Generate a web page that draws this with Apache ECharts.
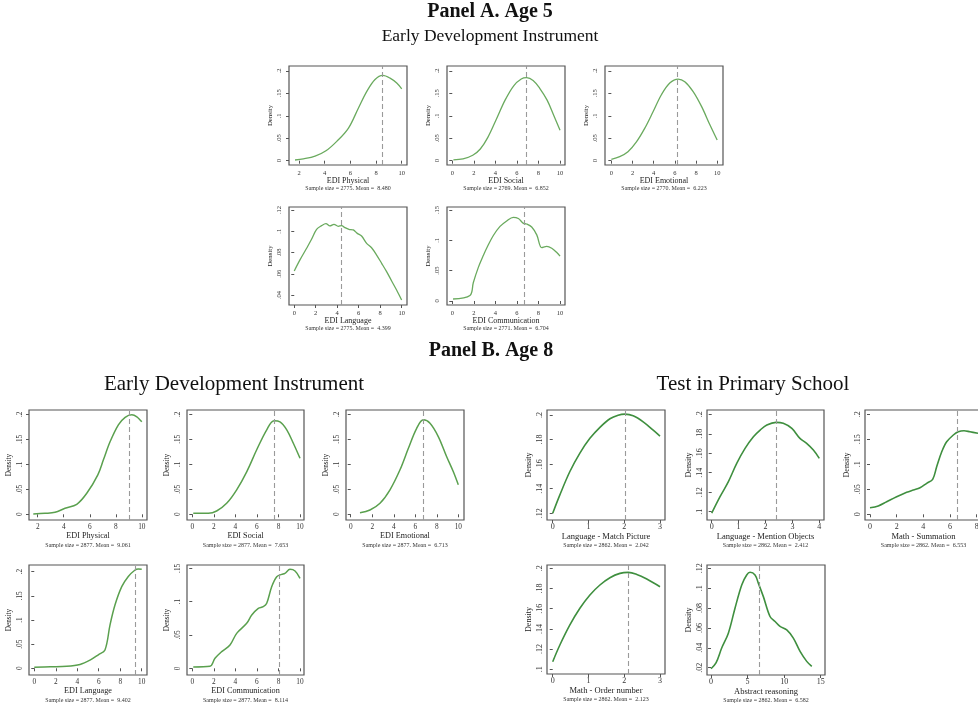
<!DOCTYPE html>
<html>
<head>
<meta charset="utf-8">
<script src="https://cdn.jsdelivr.net/npm/echarts@6/dist/echarts.min.js"></script>
<style>
  html, body { margin: 0; padding: 0; background: #fff; }
  #chart { width: 978px; height: 707px; }
</style>
</head>
<body>
<div id="chart"></div>
<script>
// ---------- Panel A: age 5, Early Development Instrument (kernel densities) ----------
const a5PhysicalX = [1.69, 2.34, 3.25, 4.1, 4.94, 5.84, 6.62, 7.27, 7.92, 8.52, 9.09, 9.61, 10.0];
const a5PhysicalY = [0.0015, 0.004, 0.010, 0.022, 0.043, 0.072, 0.117, 0.154, 0.181, 0.190, 0.184, 0.173, 0.160];
const a5SocialX = [0.1, 1.0, 1.9, 2.6, 3.3, 4.1, 4.9, 5.7, 6.4, 6.9, 7.5, 8.1, 8.8, 9.4, 10.0];
const a5SocialY = [0.002, 0.004, 0.012, 0.026, 0.052, 0.093, 0.135, 0.167, 0.182, 0.185, 0.179, 0.162, 0.135, 0.102, 0.068];
const a5EmotionalX = [0, 0.79, 1.57, 2.37, 3.15, 3.94, 4.73, 5.52, 6.31, 6.94, 7.73, 8.52, 9.31, 10.0];
const a5EmotionalY = [0.003, 0.009, 0.020, 0.042, 0.072, 0.109, 0.147, 0.173, 0.182, 0.176, 0.154, 0.121, 0.080, 0.046];
const a5LanguageX = [0, 0.53, 1.15, 1.61, 2.08, 2.55, 2.95, 3.32, 3.7, 4.1, 4.41, 4.72, 5.09, 5.5, 5.87, 6.27, 6.74, 7.2, 7.67, 8.14, 8.6, 9.07, 9.53, 10.0];
const a5LanguageY = [0.0626, 0.073, 0.084, 0.0924, 0.1018, 0.1053, 0.1071, 0.105, 0.1065, 0.1046, 0.1053, 0.1034, 0.1018, 0.1012, 0.098, 0.0955, 0.0886, 0.0845, 0.0776, 0.0698, 0.062, 0.0532, 0.0447, 0.0353];
const a5CommunicationX = [0.07, 1.64, 1.95, 2.41, 2.88, 3.3, 3.81, 4.43, 5.05, 5.66, 6.13, 6.6, 6.9, 7.37, 7.84, 8.3, 8.77, 9.23, 9.7, 10.0];
const a5CommunicationY = [0.0033, 0.009, 0.030, 0.055, 0.075, 0.091, 0.108, 0.123, 0.132, 0.138, 0.136, 0.128, 0.127, 0.122, 0.109, 0.088, 0.090, 0.087, 0.080, 0.074];
const a5Names = ['EDI Physical', 'EDI Social', 'EDI Emotional', 'EDI Language', 'EDI Communication'];
const a5SampleSizes = [2775, 2769, 2770, 2775, 2771];
const a5Means = [8.480, 6.852, 6.223, 4.399, 6.704];

// ---------- Panel B: age 8, Early Development Instrument ----------
const b8PhysicalX = [1.66, 2.56, 3.33, 4.1, 5.0, 5.77, 6.62, 7.05, 7.56, 8.2, 8.72, 9.23, 9.62, 10.0];
const b8PhysicalY = [0.0007, 0.002, 0.004, 0.012, 0.020, 0.042, 0.079, 0.109, 0.145, 0.179, 0.194, 0.199, 0.195, 0.185];
const b8SocialX = [0.09, 1.49, 2.26, 3.19, 4.12, 5.05, 5.98, 6.91, 7.59, 8.14, 8.77, 9.38, 10.0];
const b8SocialY = [0.002, 0.002, 0.0066, 0.022, 0.049, 0.085, 0.129, 0.169, 0.187, 0.185, 0.169, 0.142, 0.112];
const b8EmotionalX = [0.86, 1.79, 2.72, 3.65, 4.58, 5.36, 6.13, 6.75, 7.37, 8.15, 8.92, 9.54, 10.0];
const b8EmotionalY = [0.003, 0.0086, 0.022, 0.049, 0.089, 0.132, 0.172, 0.189, 0.182, 0.155, 0.115, 0.085, 0.059];
const b8LanguageX = [0, 1.5, 3.02, 4.26, 5.19, 5.96, 6.58, 7.05, 7.51, 8.14, 8.75, 9.38, 9.68, 10.0];
const b8LanguageY = [0.002, 0.003, 0.004, 0.008, 0.017, 0.028, 0.038, 0.090, 0.131, 0.169, 0.190, 0.2035, 0.2055, 0.205];
const b8CommunicationX = [0.09, 1.64, 2.11, 2.73, 3.5, 4.12, 5.05, 5.52, 6.13, 6.59, 6.91, 7.37, 7.84, 8.3, 8.6, 9.07, 9.54, 10.0];
const b8CommunicationY = [0.002, 0.003, 0.015, 0.025, 0.035, 0.0525, 0.0675, 0.080, 0.090, 0.0925, 0.0975, 0.1225, 0.1375, 0.141, 0.1425, 0.1485, 0.146, 0.135];
const b8Names = ['EDI Physical', 'EDI Social', 'EDI Emotional', 'EDI Language', 'EDI Communication'];
const b8SampleSizes = [2877, 2877, 2877, 2877, 2877];
const b8Means = [9.061, 7.653, 6.713, 9.402, 8.114];

// ---------- Panel B: age 8, test in primary school ----------
const tMatchPictureX = [0, 0.2, 0.48, 0.76, 1.04, 1.32, 1.6, 1.83, 2.02, 2.25, 2.53, 2.81, 3.0];
const tMatchPictureY = [0.120, 0.135, 0.154, 0.169, 0.181, 0.190, 0.197, 0.1999, 0.2007, 0.1994, 0.1945, 0.1877, 0.1829];
const tMentionObjectsX = [0, 0.31, 0.62, 0.93, 1.24, 1.55, 1.8, 2.05, 2.39, 2.66, 2.98, 3.28, 3.53, 3.78, 4.0];
const tMentionObjectsY = [0.0985, 0.1154, 0.1308, 0.1496, 0.165, 0.1769, 0.1838, 0.189, 0.1917, 0.1907, 0.1855, 0.1753, 0.1702, 0.1633, 0.1548];
const tSummationX = [0, 0.62, 1.25, 2.0, 2.75, 3.25, 3.75, 4.25, 4.7, 5.0, 5.38, 5.75, 6.25, 6.62, 7.05, 7.5, 8.1];
const tSummationY = [0.013, 0.0166, 0.025, 0.035, 0.044, 0.0486, 0.053, 0.062, 0.070, 0.095, 0.125, 0.145, 0.1586, 0.165, 0.167, 0.165, 0.162];
const tOrderNumberX = [0, 0.2, 0.48, 0.76, 1.04, 1.32, 1.6, 1.88, 2.11, 2.35, 2.63, 3.0];
const tOrderNumberY = [0.1075, 0.124, 0.1439, 0.1604, 0.1736, 0.1835, 0.1907, 0.195, 0.196, 0.194, 0.1894, 0.1818];
const tAbstractX = [0, 0.68, 1.46, 2.37, 3.28, 4.2, 4.88, 5.34, 6.02, 6.47, 7.16, 8.07, 8.76, 9.44, 10.36, 11.26, 12.18, 13.09, 13.78];
const tAbstractY = [0.019, 0.0248, 0.0398, 0.0548, 0.0799, 0.1033, 0.1133, 0.116, 0.1133, 0.105, 0.0915, 0.0715, 0.0665, 0.0615, 0.0581, 0.0498, 0.0364, 0.0264, 0.0214];
const tNames = ['Language - Match Picture', 'Language - Mention Objects', 'Math - Summation', 'Math - Order number', 'Abstract reasoning'];
const tSampleSizes = [2862, 2862, 2862, 2862, 2862];
const tMeans = [2.042, 2.412, 6.553, 2.123, 6.582];

// ---------- tick labels ----------
const xTicks2to10 = [2, 4, 6, 8, 10];
const xTicks0to10 = [0, 2, 4, 6, 8, 10];
const xTicks0to3 = [0, 1, 2, 3];
const xTicks0to4 = [0, 1, 2, 3, 4];
const xTicks0to8 = [0, 2, 4, 6, 8];
const xTicks0to15 = [0, 5, 10, 15];
const yTicks0to20 = [0, 0.05, 0.1, 0.15, 0.2];
const yTicks0to15 = [0, 0.05, 0.1, 0.15];
const yTicks4to12 = [0.04, 0.06, 0.08, 0.1, 0.12];
const yTicks12to20 = [0.12, 0.14, 0.16, 0.18, 0.2];
const yTicks10to20 = [0.1, 0.12, 0.14, 0.16, 0.18, 0.2];
const yTicks2to12 = [0.02, 0.04, 0.06, 0.08, 0.1, 0.12];

// ---------- styling per block of panels ----------
const SERIF = '"Liberation Serif", "Times New Roman", serif';
const styles = {
  A: { tick: 6.5, name: 8, note: 6, dens: 6.8, xMargin: 4.5, yMargin: 6.5, xNameGap: 10.3, yNameGap: 15, noteGap: 23.3, color: '#6aaa5e', width: 1.3 },
  B: { tick: 7.3, name: 8.2, note: 6, dens: 7.2, xMargin: 3.5, yMargin: 5.5, xNameGap: 12, yNameGap: 16.4, noteGap: 25, color: '#5aa04e', width: 1.5 },
  C: { tick: 8, name: 8.5, note: 6, dens: 8, xMargin: 3, yMargin: 3.5, xNameGap: 12, yNameGap: 14, noteGap: 25, color: '#3f8f3f', width: 1.6 }
};

// each panel: style block, plot box [left, top, width, height], axis extents and ticks
const panels = [
  { s: 'A', box: [289, 66, 118, 99], xr: [1.22, 10.41], yr: [-0.0096, 0.2111], xt: xTicks2to10, yt: yTicks0to20, x: a5PhysicalX, y: a5PhysicalY, name: a5Names[0], n: a5SampleSizes[0], mean: a5Means[0] },
  { s: 'A', box: [447, 66, 118, 99], xr: [-0.49, 10.46], yr: [-0.0096, 0.2111], xt: xTicks0to10, yt: yTicks0to20, x: a5SocialX, y: a5SocialY, name: a5Names[1], n: a5SampleSizes[1], mean: a5Means[1] },
  { s: 'A', box: [605, 66, 118, 99], xr: [-0.6, 10.55], yr: [-0.0096, 0.2111], xt: xTicks0to10, yt: yTicks0to20, x: a5EmotionalX, y: a5EmotionalY, name: a5Names[2], n: a5SampleSizes[2], mean: a5Means[2] },
  { s: 'A', box: [289, 207, 118, 98], xr: [-0.49, 10.5], yr: [0.0306, 0.1228], xt: xTicks0to10, yt: yTicks4to12, x: a5LanguageX, y: a5LanguageY, name: a5Names[3], n: a5SampleSizes[3], mean: a5Means[3] },
  { s: 'A', box: [447, 207, 118, 98], xr: [-0.49, 10.46], yr: [-0.0066, 0.155], xt: xTicks0to10, yt: yTicks0to15, x: a5CommunicationX, y: a5CommunicationY, name: a5Names[4], n: a5SampleSizes[4], mean: a5Means[4] },

  { s: 'B', box: [29, 410, 118, 110], xr: [1.33, 10.4], yr: [-0.0114, 0.2086], xt: xTicks2to10, yt: yTicks0to20, x: b8PhysicalX, y: b8PhysicalY, name: b8Names[0], n: b8SampleSizes[0], mean: b8Means[0] },
  { s: 'B', box: [187, 410, 117, 110], xr: [-0.49, 10.37], yr: [-0.0114, 0.2086], xt: xTicks0to10, yt: yTicks0to20, x: b8SocialX, y: b8SocialY, name: b8Names[1], n: b8SampleSizes[1], mean: b8Means[1] },
  { s: 'B', box: [346, 410, 118, 110], xr: [-0.44, 10.53], yr: [-0.0114, 0.2086], xt: xTicks0to10, yt: yTicks0to20, x: b8EmotionalX, y: b8EmotionalY, name: b8Names[2], n: b8SampleSizes[2], mean: b8Means[2] },
  { s: 'B', box: [29, 565, 118, 110], xr: [-0.49, 10.49], yr: [-0.0139, 0.2139], xt: xTicks0to10, yt: yTicks0to20, x: b8LanguageX, y: b8LanguageY, name: b8Names[3], n: b8SampleSizes[3], mean: b8Means[3] },
  { s: 'B', box: [187, 565, 117, 110], xr: [-0.49, 10.37], yr: [-0.01, 0.155], xt: xTicks0to10, yt: yTicks0to15, x: b8CommunicationX, y: b8CommunicationY, name: b8Names[4], n: b8SampleSizes[4], mean: b8Means[4] },

  { s: 'C', box: [547, 410, 118, 110], xr: [-0.16, 3.14], yr: [0.1145, 0.2041], xt: xTicks0to3, yt: yTicks12to20, x: tMatchPictureX, y: tMatchPictureY, name: tNames[0], n: tSampleSizes[0], mean: tMeans[0] },
  { s: 'C', box: [707, 410, 117, 110], xr: [-0.175, 4.175], yr: [0.0915, 0.2044], xt: xTicks0to4, yt: yTicks10to20, x: tMentionObjectsX, y: tMentionObjectsY, name: tNames[1], n: tSampleSizes[1], mean: tMeans[1] },
  { s: 'C', box: [865, 410, 117, 110], xr: [-0.375, 8.4], yr: [-0.0114, 0.2086], xt: xTicks0to8, yt: yTicks0to20, x: tSummationX, y: tSummationY, name: tNames[2], n: tSampleSizes[2], mean: tMeans[2] },
  { s: 'C', box: [547, 565, 118, 109], xr: [-0.16, 3.14], yr: [0.0953, 0.2033], xt: xTicks0to3, yt: yTicks10to20, x: tOrderNumberX, y: tOrderNumberY, name: tNames[3], n: tSampleSizes[3], mean: tMeans[3] },
  { s: 'C', box: [707, 565, 118, 110], xr: [-0.55, 15.59], yr: [0.0127, 0.1233], xt: xTicks0to15, yt: yTicks2to12, x: tAbstractX, y: tAbstractY, name: tNames[4], n: tSampleSizes[4], mean: tMeans[4] }
];

const yFmt = v => (Math.abs(v) < 1e-9 ? '0' : String(+v.toFixed(3)).replace(/^0\./, '.'));

const grid = [], xAxis = [], yAxis = [], series = [], graphic = [];

panels.forEach((p, i) => {
  const st = styles[p.s];
  const [left, top, w, h] = p.box;
  grid.push({
    left: left, top: top, width: w, height: h,
    show: true, borderColor: '#555', borderWidth: 1.2, backgroundColor: '#fff',
    containLabel: false, outerBoundsMode: 'none'
  });
  xAxis.push({
    type: 'value', gridIndex: i, min: p.xr[0], max: p.xr[1],
    name: p.name, nameLocation: 'middle', nameGap: st.xNameGap,
    nameTextStyle: { fontFamily: SERIF, fontSize: st.name, color: '#222' },
    axisLine: { show: false },
    axisTick: { show: true, inside: false, length: 3, customValues: p.xt, lineStyle: { color: '#555', width: 1 } },
    axisLabel: { customValues: p.xt, margin: st.xMargin, fontFamily: SERIF, fontSize: st.tick, color: '#333', formatter: v => String(v) },
    splitLine: { show: false }
  });
  yAxis.push({
    type: 'value', gridIndex: i, min: p.yr[0], max: p.yr[1],
    name: 'Density', nameLocation: 'middle', nameGap: st.yNameGap, nameRotate: 90,
    nameTextStyle: { fontFamily: SERIF, fontSize: st.dens, color: '#222' },
    axisLine: { show: false },
    axisTick: { show: true, inside: false, length: 3, customValues: p.yt, lineStyle: { color: '#555', width: 1 } },
    axisLabel: { customValues: p.yt, rotate: 90, margin: st.yMargin, fontFamily: SERIF, fontSize: st.tick, color: '#333', formatter: yFmt },
    splitLine: { show: false }
  });
  series.push({
    type: 'line', xAxisIndex: i, yAxisIndex: i,
    data: p.x.map((xv, k) => [xv, p.y[k]]),
    showSymbol: false, smooth: 0.35,
    lineStyle: { color: st.color, width: st.width },
    silent: true, animation: false,
    markLine: {
      silent: true, symbol: ['none', 'none'], animation: false,
      label: { show: false },
      lineStyle: { color: '#9a9a9a', width: 1.1, type: [5, 3] },
      data: [{ xAxis: p.mean }]
    }
  });
  graphic.push({
    type: 'text', silent: true,
    style: {
      text: 'Sample size = ' + p.n + '. Mean =  ' + p.mean.toFixed(3),
      x: left + w / 2, y: top + h + st.noteGap,
      align: 'center', verticalAlign: 'middle', textAlign: 'center', textVerticalAlign: 'middle',
      font: st.note + 'px ' + SERIF, fill: '#333'
    }
  });
});

// headings
const headings = [
  { text: 'Panel A. Age 5', x: 490, y: 12, font: 'bold 20px ' + SERIF },
  { text: 'Early Development Instrument', x: 490, y: 36, font: '17.5px ' + SERIF },
  { text: 'Panel B. Age 8', x: 491, y: 351, font: 'bold 20px ' + SERIF },
  { text: 'Early Development Instrument', x: 234, y: 384, font: '21px ' + SERIF },
  { text: 'Test in Primary School', x: 753, y: 384, font: '21px ' + SERIF }
];
headings.forEach(hd => {
  graphic.push({
    type: 'text', silent: true,
    style: {
      text: hd.text, x: hd.x, y: hd.y,
      align: 'center', verticalAlign: 'middle', textAlign: 'center', textVerticalAlign: 'middle',
      font: hd.font, fill: '#111'
    }
  });
});

const chart = echarts.init(document.getElementById('chart'), null, { renderer: 'canvas' });
chart.setOption({
  animation: false,
  backgroundColor: '#fff',
  grid, xAxis, yAxis, series, graphic
});
</script>
</body>
</html>
